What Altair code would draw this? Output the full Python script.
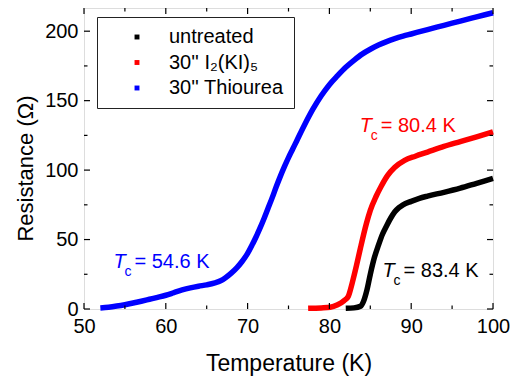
import altair as alt
import pandas as pd

FONT = "Liberation Sans"

series_names = ["untreated", "30'' I₂(KI)₅", "30'' Thiourea"]
series_colors = ["#000000", "#ff0000", "#0000ff"]

untreated_T = [82.0, 83.0, 83.8, 84.2, 84.6, 85.0, 85.5, 86.0, 86.5, 87.0, 87.5, 88.0,
               88.5, 89.0, 90.0, 91.0, 92.0, 94.0, 96.0, 98.0, 100.0]
untreated_R = [0.5, 0.8, 2.0, 6.0, 14.0, 25.0, 37.0, 46.0, 54.0, 60.0, 65.5, 70.0,
               73.0, 75.0, 77.5, 79.7, 81.3, 84.0, 87.0, 90.5, 94.0]

iodine_T = [77.4, 79.0, 80.1, 81.0, 81.8, 82.3, 82.8, 83.3, 83.8, 84.5, 85.0, 85.7,
            86.3, 87.1, 88.0, 89.2, 90.5, 92.0, 94.0, 96.0, 98.0, 100.0]
iodine_R = [0.5, 0.8, 1.2, 3.0, 6.0, 9.0, 19.0, 31.0, 44.0, 61.0, 71.0, 81.0,
            88.0, 96.0, 102.0, 107.0, 110.0, 113.0, 117.0, 120.5, 124.0, 127.6]

thiourea_T = [52.0, 53.0, 54.0, 55.0, 56.0, 57.0, 58.0, 59.0, 60.0, 61.0, 62.0, 63.0,
              64.0, 65.0, 66.0, 66.7, 67.3, 68.0, 68.7, 69.3, 70.0, 70.5, 71.0, 71.5,
              72.0, 72.5, 73.0, 73.5, 74.0, 74.5, 75.0, 75.5, 76.0, 77.0, 78.0, 79.0, 80.0,
              81.0, 82.0, 83.0, 84.0, 85.0, 86.0, 87.0, 88.0, 89.0, 90.0, 92.0, 94.0,
              96.0, 98.0, 100.0]
thiourea_R = [0.8, 1.3, 2.1, 3.1, 4.3, 5.6, 7.0, 8.4, 9.9, 11.8, 13.7, 15.2,
              16.4, 17.4, 18.8, 20.3, 22.5, 25.8, 29.8, 34.0, 40.0, 45.5, 51.5, 58.0,
              65.0, 72.5, 80.0, 88.0, 95.5, 102.5, 109.0, 115.0, 121.0, 133.0, 144.0, 153.5, 161.5,
              168.0, 174.0, 179.0, 183.5, 187.0, 190.0, 192.5, 194.6, 196.4, 198.0, 201.2, 204.2,
              207.3, 210.3, 213.3]

tc_texts = ["= 83.4 K", "= 80.4 K", "= 54.6 K"]
tc_T = [86.5, 83.7, 53.6]
tc_R = [23.3, 127.6, 29.5]

x_major = [50, 60, 70, 80, 90, 100]
x_minor = [55, 65, 75, 85, 95]
y_major = [0, 50, 100, 150, 200]
y_minor = [25, 75, 125, 175]

W, H = 409, 301

rows = []
for name, Ts, Rs in zip(series_names, [untreated_T, iodine_T, thiourea_T],
                        [untreated_R, iodine_R, thiourea_R]):
    for t, r in zip(Ts, Rs):
        rows.append({"T": t, "R": r, "series": name})
df = pd.DataFrame(rows)

ann = pd.DataFrame({"T": tc_T, "R": tc_R, "txt": tc_texts, "col": series_colors})

xscale = alt.Scale(domain=[50, 100], nice=False, zero=False)
yscale = alt.Scale(domain=[0, 216.7], nice=False)

xaxis = alt.Axis(values=x_major, title="Temperature (K)", ticks=False, domain=False,
                 grid=False, labelFont=FONT, labelFontSize=20, labelColor="black",
                 labelPadding=7, labelFlush=False, labelOverlap=False,
                 titleFont=FONT, titleFontSize=23,
                 titleFontWeight="normal", titleColor="black",
                 titleBaseline="alphabetic", titleY=61)
yaxis = alt.Axis(values=y_major, title="Resistance (Ω)", ticks=False, domain=False,
                 grid=False, labelFont=FONT, labelFontSize=20, labelColor="black",
                 labelPadding=6, labelFlush=False, labelOverlap=False,
                 titleFont=FONT, titleFontSize=22,
                 titleFontWeight="normal", titleColor="black",
                 titleAngle=-90, titleBaseline="alphabetic", titleAlign="center",
                 titleX=-52, titleY=160)

X = alt.X("T:Q", scale=xscale, axis=xaxis)
Y = alt.Y("R:Q", scale=yscale, axis=yaxis)

lines = alt.Chart(df).mark_line(strokeWidth=5.5, interpolate="monotone").encode(
    x=X, y=Y,
    color=alt.Color("series:N",
                    scale=alt.Scale(domain=series_names, range=series_colors),
                    legend=alt.Legend(orient="none", legendX=13, legendY=9, title=None,
                                      symbolType="square", symbolSize=2,
                                      symbolStrokeWidth=3.5, labelFont=FONT,
                                      labelFontSize=20, labelColor="black",
                                      padding=10, rowPadding=5.5, symbolOffset=20,
                                      labelOffset=22, strokeColor="#222",
                                      fillColor="white", labelLimit=400)),
    detail="series:N",
)

def tick_layer(vals, horiz, side, length):
    d = pd.DataFrame({("T" if horiz else "R"): vals})
    base = alt.Chart(d).mark_rule(color="black", strokeWidth=1.2)
    if horiz:
        if side == "bottom":
            return base.encode(x=X, y=alt.value(H), y2=alt.value(H - length))
        return base.encode(x=X, y=alt.value(0), y2=alt.value(length))
    if side == "left":
        return base.encode(y=Y, x=alt.value(0), x2=alt.value(length))
    return base.encode(y=Y, x=alt.value(W), x2=alt.value(W - length))

ticks = []
for side in ["bottom", "top"]:
    ticks.append(tick_layer(x_major, True, side, 6))
    ticks.append(tick_layer(x_minor, True, side, 3.5))
for side in ["left", "right"]:
    ticks.append(tick_layer(y_major, False, side, 6))
    ticks.append(tick_layer(y_minor, False, side, 3.5))

ann_base = alt.Chart(ann).encode(
    x=X, y=Y,
    color=alt.Color("col:N", scale=None),
)
t_letter = ann_base.mark_text(text="T", font=FONT, fontSize=20, fontStyle="italic",
                              align="left", baseline="alphabetic")
c_letter = ann_base.mark_text(text="c", font=FONT, fontSize=14, align="left",
                              baseline="alphabetic", dx=11, dy=8)
rest = ann_base.mark_text(font=FONT, fontSize=20, align="left",
                          baseline="alphabetic", dx=21).encode(text="txt:N")

chart = alt.layer(lines, *ticks, t_letter, c_letter, rest).properties(
    width=W, height=H,
    autosize=alt.AutoSizeParams(type="none"),
    padding={"left": 76, "top": 0, "right": 17, "bottom": 70},
).configure_view(stroke="black", strokeWidth=1.5).configure(background="white")

chart.save("out.html", embed_options={"renderer": "svg", "actions": False})
